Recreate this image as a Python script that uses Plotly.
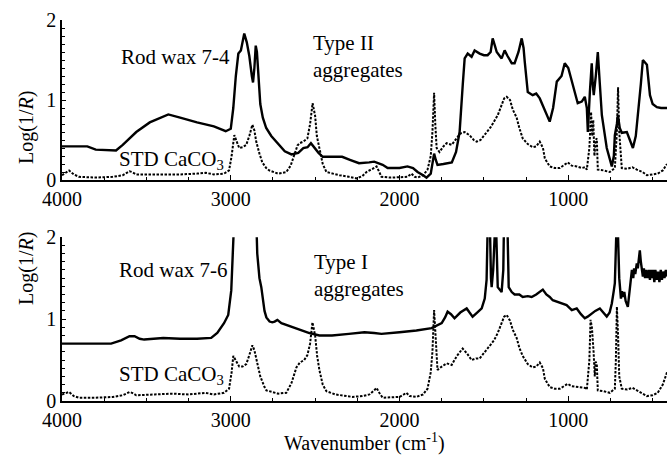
import plotly.graph_objects as go

# ---------------- data ----------------
# Top panel: Rod wax 7-4 (solid)
wn_74 = [4000, 3850, 3800, 3680, 3640, 3560, 3480, 3400, 3370, 3300,
         3200, 3100, 3030, 3000, 2985, 2970, 2955, 2940, 2930, 2920,
         2905, 2890, 2875, 2868, 2860, 2852, 2845, 2835, 2825, 2810,
         2790, 2760, 2720, 2680, 2640, 2600, 2570, 2545, 2525, 2505,
         2480, 2455, 2400, 2340, 2290, 2240, 2180, 2150, 2100, 2070,
         2000, 1953, 1920, 1893, 1860, 1840, 1815, 1800, 1795, 1785,
         1775, 1740, 1690, 1665, 1644, 1625, 1614, 1596, 1573, 1555,
         1525, 1500, 1478, 1460, 1448, 1435, 1424, 1395, 1377, 1360,
         1335, 1318, 1295, 1276, 1265, 1258, 1240, 1211, 1190, 1169,
         1140, 1110, 1090, 1068, 1040, 1021, 1000, 979, 960, 944,
         920, 902, 890, 884, 872, 861, 855, 849, 837, 825,
         813, 801, 772, 742, 730, 724, 712, 706, 695, 683,
         653, 617, 600, 588, 570, 558, 534, 516, 500, 475,
         450, 415]
abs_74 = [0.42, 0.42, 0.38, 0.37, 0.44, 0.60, 0.72, 0.80, 0.82, 0.78,
          0.72, 0.67, 0.61, 0.64, 0.90, 1.30, 1.58, 1.62, 1.75, 1.83,
          1.72, 1.55, 1.30, 1.22, 1.40, 1.68, 1.60, 1.20, 0.95, 0.78,
          0.65, 0.55, 0.45, 0.36, 0.32, 0.34, 0.40, 0.41, 0.46, 0.40,
          0.34, 0.29, 0.29, 0.29, 0.25, 0.21, 0.22, 0.23, 0.19, 0.15,
          0.15, 0.17, 0.15, 0.10, 0.06, 0.03, 0.08, 0.28, 0.33, 0.25,
          0.19, 0.20, 0.22, 0.35, 0.60, 1.20, 1.52, 1.58, 1.54, 1.62,
          1.58, 1.56, 1.56, 1.60, 1.77, 1.68, 1.60, 1.52, 1.62, 1.55,
          1.46, 1.46, 1.60, 1.77, 1.65, 1.48, 1.10, 1.06, 1.08, 1.02,
          0.88, 0.73, 0.90, 1.23, 1.30, 1.46, 1.40, 1.23, 1.08, 0.96,
          0.98, 1.04, 0.90, 0.60, 1.10, 1.46, 1.20, 1.06, 1.30, 1.60,
          1.20, 0.81, 0.40, 0.17, 0.30, 0.56, 0.70, 0.81, 0.65, 0.59,
          0.60, 0.40, 0.55, 0.78, 1.20, 1.50, 1.44, 1.06, 0.95, 0.91,
          0.90, 0.90]

# Top panel: STD CaCO3 (dotted)
wn_std_top = [4000, 3975, 3958, 3930, 3900, 3800, 3700, 3640, 3600, 3585,
              3560, 3400, 3300, 3200, 3150, 3100, 3040, 3010, 2995, 2979,
              2965, 2950, 2930, 2908, 2890, 2872, 2860, 2849, 2830, 2813,
              2790, 2772, 2720, 2671, 2645, 2623, 2605, 2593, 2570, 2546,
              2530, 2515, 2500, 2490, 2475, 2455, 2433, 2400, 2356, 2300,
              2255, 2220, 2196, 2160, 2136, 2120, 2107, 2050, 1980, 1953,
              1929, 1910, 1893, 1860, 1834, 1815, 1805, 1795, 1788, 1780,
              1763, 1740, 1721, 1691, 1662, 1640, 1614, 1585, 1560, 1543,
              1520, 1496, 1460, 1418, 1395, 1380, 1365, 1345, 1329, 1306,
              1290, 1270, 1240, 1211, 1190, 1169, 1150, 1139, 1110, 1080,
              1050, 1020, 1003, 980, 950, 920, 900, 890, 875, 865,
              858, 852, 845, 838, 831, 825, 790, 754, 724, 712,
              705, 698, 683, 650, 620, 594, 560, 534, 500, 470,
              440, 415]
std_top = [0.06, 0.10, 0.12, 0.07, 0.04, 0.03, 0.04, 0.06, 0.11, 0.10,
           0.07, 0.07, 0.07, 0.08, 0.09, 0.07, 0.08, 0.12, 0.30, 0.56,
           0.48, 0.40, 0.41, 0.44, 0.55, 0.69, 0.62, 0.48, 0.33, 0.22,
           0.15, 0.12, 0.08, 0.10, 0.18, 0.31, 0.43, 0.46, 0.48, 0.52,
           0.70, 0.96, 0.80, 0.55, 0.40, 0.20, 0.10, 0.08, 0.06, 0.04,
           0.02, 0.05, 0.10, 0.14, 0.17, 0.10, 0.04, 0.03, 0.04, 0.04,
           0.08, 0.04, 0.03, 0.06, 0.13, 0.30, 0.60, 1.09, 0.70, 0.40,
           0.35, 0.42, 0.46, 0.44, 0.52, 0.58, 0.60, 0.56, 0.50, 0.48,
           0.50, 0.56, 0.66, 0.81, 0.95, 1.02, 1.04, 1.00, 0.88, 0.78,
           0.65, 0.52, 0.45, 0.41, 0.42, 0.48, 0.40, 0.27, 0.17, 0.15,
           0.15, 0.19, 0.22, 0.18, 0.17, 0.15, 0.16, 0.13, 0.40, 0.85,
           0.55, 0.75, 0.30, 0.50, 0.52, 0.13, 0.12, 0.10, 0.15, 0.60,
           1.16, 0.60, 0.15, 0.14, 0.16, 0.13, 0.10, 0.06, 0.07, 0.08,
           0.12, 0.20]

# Bottom panel: Rod wax 7-6 (solid)
wn_76 = [4000, 3800, 3709, 3650, 3600, 3570, 3540, 3513, 3450, 3400,
         3300, 3200, 3116, 3080, 3040, 3015, 2997, 2985, 2978, 2850,
         2843, 2830, 2819, 2800, 2789, 2770, 2754, 2740, 2724, 2700,
         2671, 2630, 2593, 2534, 2475, 2400, 2300, 2208, 2150, 2107,
         2000, 1900, 1810, 1780, 1750, 1730, 1715, 1695, 1674, 1640,
         1602, 1585, 1567, 1540, 1513, 1495, 1484, 1476, 1466, 1458,
         1454, 1445, 1440, 1430, 1418, 1395, 1385, 1380, 1362, 1353,
         1335, 1318, 1290, 1270, 1240, 1217, 1190, 1170, 1151, 1130,
         1110, 1092, 1060, 1033, 1010, 979, 965, 950, 925, 902,
         885, 861, 840, 813, 795, 772, 755, 742, 730, 724,
         716, 705, 698, 694, 688, 682, 676, 668, 660, 647,
         635, 623, 615, 610, 603, 594, 588, 580, 576, 570,
         565, 558, 552, 545, 540, 530, 524, 516, 510, 505,
         498, 490, 484, 475, 468, 460, 452, 445, 438, 430,
         422, 415]
abs_76 = [0.70, 0.70, 0.70, 0.74, 0.79, 0.79, 0.76, 0.75, 0.76, 0.77,
          0.76, 0.76, 0.77, 0.83, 0.95, 1.05, 1.35, 1.80, 2.30, 2.30,
          1.80, 1.50, 1.39, 1.10, 1.02, 0.97, 0.96, 0.97, 0.99, 0.95,
          0.93, 0.90, 0.87, 0.83, 0.80, 0.80, 0.82, 0.84, 0.83, 0.82,
          0.84, 0.86, 0.89, 0.92, 0.95, 1.02, 1.09, 1.06, 1.01, 1.08,
          1.13, 1.08, 1.03, 1.08, 1.13, 1.25, 1.48, 2.30, 2.30, 1.50,
          1.39, 1.60, 2.30, 2.30, 1.39, 1.33, 1.60, 2.30, 2.30, 1.39,
          1.33, 1.30, 1.30, 1.27, 1.28, 1.27, 1.30, 1.33, 1.36, 1.30,
          1.27, 1.23, 1.21, 1.19, 1.17, 1.11, 1.12, 1.13, 1.06, 1.01,
          1.03, 1.07, 1.10, 1.13, 1.08, 1.03, 1.08, 1.19, 1.35, 1.44,
          2.00, 2.00, 1.50, 1.32, 1.25, 1.34, 1.27, 1.33, 1.22, 1.15,
          1.40, 1.60, 1.50, 1.62, 1.55, 1.68, 1.62, 1.75, 1.84, 1.70,
          1.60, 1.52, 1.62, 1.50, 1.60, 1.50, 1.60, 1.48, 1.60, 1.50,
          1.60, 1.45, 1.60, 1.48, 1.58, 1.45, 1.60, 1.48, 1.58, 1.50,
          1.60, 1.52]

# Bottom panel: STD CaCO3 (dotted)
wn_std_bot = [4000, 3975, 3958, 3930, 3900, 3800, 3700, 3640, 3600, 3585,
              3560, 3450, 3350, 3250, 3170, 3150, 3100, 3040, 3010, 2995,
              2985, 2965, 2950, 2930, 2908, 2890, 2872, 2860, 2843, 2825,
              2800, 2789, 2720, 2671, 2640, 2611, 2590, 2565, 2546, 2530,
              2516, 2500, 2488, 2475, 2455, 2433, 2380, 2279, 2220, 2178,
              2150, 2136, 2120, 2100, 2000, 1959, 1940, 1900, 1860, 1834,
              1815, 1805, 1795, 1788, 1775, 1750, 1721, 1691, 1660, 1626,
              1600, 1573, 1545, 1525, 1495, 1466, 1440, 1418, 1395, 1380,
              1365, 1345, 1329, 1306, 1290, 1270, 1240, 1211, 1190, 1169,
              1150, 1139, 1110, 1080, 1050, 1020, 1003, 980, 950, 920,
              900, 890, 875, 868, 860, 850, 843, 838, 831, 825,
              790, 754, 724, 718, 712, 705, 698, 683, 650, 620,
              594, 560, 534, 500, 470, 440, 425, 415]
std_bot = [0.08, 0.10, 0.11, 0.06, 0.04, 0.04, 0.05, 0.07, 0.11, 0.10,
           0.07, 0.08, 0.09, 0.08, 0.09, 0.10, 0.08, 0.10, 0.15, 0.35,
           0.55, 0.47, 0.42, 0.42, 0.45, 0.56, 0.68, 0.62, 0.46, 0.30,
           0.17, 0.13, 0.09, 0.10, 0.22, 0.41, 0.47, 0.50, 0.56, 0.70,
           0.96, 0.80, 0.55, 0.38, 0.20, 0.12, 0.08, 0.05, 0.06, 0.08,
           0.13, 0.16, 0.10, 0.04, 0.05, 0.10, 0.06, 0.05, 0.08, 0.15,
           0.35, 0.60, 1.11, 0.80, 0.38, 0.42, 0.46, 0.44, 0.55, 0.64,
           0.58, 0.50, 0.52, 0.52, 0.60, 0.68, 0.74, 0.83, 0.95, 1.03,
           1.05, 0.98, 0.87, 0.77, 0.65, 0.55, 0.45, 0.41, 0.42, 0.47,
           0.40, 0.27, 0.17, 0.15, 0.15, 0.19, 0.21, 0.18, 0.17, 0.16,
           0.16, 0.14, 0.50, 0.99, 0.90, 0.60, 0.30, 0.48, 0.45, 0.13,
           0.12, 0.10, 0.15, 0.50, 1.15, 0.80, 0.30, 0.15, 0.14, 0.16,
           0.13, 0.10, 0.06, 0.07, 0.10, 0.20, 0.30, 0.35]

x_ticks = [4000, 3000, 2000, 1000]
y_ticks = [0, 1, 2]

# ---------------- figure ----------------
FONT = "Liberation Serif, Times New Roman, serif"
DOT = "2.5px,1.5px"
fig = go.Figure()

fig.add_trace(go.Scatter(x=wn_74, y=abs_74, mode="lines", xaxis="x", yaxis="y",
                         line=dict(color="black", width=2.4), showlegend=False))
fig.add_trace(go.Scatter(x=wn_std_top, y=std_top, mode="lines", xaxis="x", yaxis="y",
                         line=dict(color="black", width=2, dash=DOT), showlegend=False))
fig.add_trace(go.Scatter(x=wn_76, y=abs_76, mode="lines", xaxis="x2", yaxis="y2",
                         line=dict(color="black", width=2.4), showlegend=False))
fig.add_trace(go.Scatter(x=wn_std_bot, y=std_bot, mode="lines", xaxis="x2", yaxis="y2",
                         line=dict(color="black", width=2, dash=DOT), showlegend=False))

xcommon = dict(range=[4000, 415], tickvals=x_ticks, ticks="inside", ticklen=5,
               tickwidth=1, tickcolor="black", showline=True, linecolor="black",
               linewidth=1.5, showgrid=False, zeroline=False,
               tickfont=dict(family=FONT, size=20, color="black"),
               minor=dict(dtick=250, ticks="inside", ticklen=3, tickcolor="black"))
ycommon = dict(range=[0, 2], tickvals=y_ticks, ticks="inside", ticklen=4,
               tickwidth=1, tickcolor="black", showline=True, linecolor="black",
               linewidth=1.5, showgrid=False, zeroline=False,
               tickfont=dict(family=FONT, size=20, color="black"),
               minor=dict(dtick=0.1, ticks="inside", ticklen=3, tickcolor="black"))

fig.update_layout(
    width=667, height=457,
    margin=dict(l=62, r=0, t=20, b=56),
    paper_bgcolor="white", plot_bgcolor="white",
    font=dict(family=FONT, size=20, color="black"),
    xaxis=dict(domain=[0, 1], anchor="y", **xcommon),
    yaxis=dict(domain=[0.58, 1], anchor="x", **ycommon),
    xaxis2=dict(domain=[0, 1], anchor="y2", **xcommon),
    yaxis2=dict(domain=[0, 0.43], anchor="x2", **ycommon),
)

ann = [
    dict(x=3662, y=1.54, xref="x", yref="y", text="Rod wax 7-4", xanchor="left"),
    dict(x=2522, y=1.54, xref="x", yref="y", text="Type II<br>aggregates", xanchor="left", align="left"),
    dict(x=3672, y=0.25, xref="x", yref="y", text="STD CaCO<sub>3</sub>", xanchor="left"),
    dict(x=3672, y=1.60, xref="x2", yref="y2", text="Rod wax 7-6", xanchor="left"),
    dict(x=2516, y=1.53, xref="x2", yref="y2", text="Type I<br>aggregates", xanchor="left", align="left"),
    dict(x=3672, y=0.32, xref="x2", yref="y2", text="STD CaCO<sub>3</sub>", xanchor="left"),
    dict(x=-0.081, y=0.819, xref="paper", yref="paper", text="Log(1/<i>R</i>)", textangle=-90),
    dict(x=-0.081, y=0.247, xref="paper", yref="paper", text="Log(1/<i>R</i>)", textangle=-90),
    dict(x=0.5, y=-0.11, xref="paper", yref="paper", text="Wavenumber (cm<sup>-1</sup>)", yanchor="middle"),
]
for a in ann:
    a.setdefault("showarrow", False)
    a["font"] = dict(family=FONT, size=21 if a["xref"] != "paper" else 20, color="black")
    fig.add_annotation(**a)

fig.write_html("out.html", config={"displayModeBar": False},
               post_script="document.body.style.margin='0';document.body.style.overflow='hidden';")
